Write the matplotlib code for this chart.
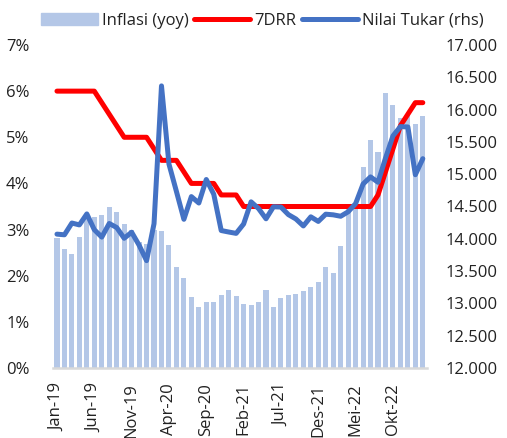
import matplotlib
matplotlib.use('Agg')
import matplotlib.pyplot as plt
from matplotlib.ticker import FuncFormatter, MultipleLocator
from matplotlib.patches import Patch
from matplotlib.lines import Line2D

plt.rcParams['font.family'] = ['Open Sans', 'DejaVu Sans']

months = ['Jan', 'Feb', 'Mar', 'Apr', 'Mei', 'Jun', 'Jul', 'Agu', 'Sep', 'Okt', 'Nov', 'Des']
labels = [m + '-' + y for y in ['19', '20', '21', '22', '23'] for m in months][:50]

inflasi = [2.82, 2.57, 2.48, 2.83, 3.32, 3.28, 3.32, 3.49, 3.39, 3.13, 3.00, 2.72,
           2.68, 2.98, 2.96, 2.67, 2.19, 1.96, 1.54, 1.32, 1.42, 1.44, 1.59, 1.68,
           1.55, 1.38, 1.37, 1.42, 1.68, 1.33, 1.52, 1.59, 1.60, 1.66, 1.75, 1.87,
           2.18, 2.06, 2.64, 3.47, 3.55, 4.35, 4.94, 4.69, 5.95, 5.71, 5.42, 5.51,
           5.28, 5.47]

drr = [6.00, 6.00, 6.00, 6.00, 6.00, 6.00, 5.75, 5.50, 5.25, 5.00, 5.00, 5.00,
       5.00, 4.75, 4.50, 4.50, 4.50, 4.25, 4.00, 4.00, 4.00, 4.00, 3.75, 3.75,
       3.75, 3.50, 3.50, 3.50, 3.50, 3.50, 3.50, 3.50, 3.50, 3.50, 3.50, 3.50,
       3.50, 3.50, 3.50, 3.50, 3.50, 3.50, 3.50, 3.75, 4.25, 4.75, 5.25, 5.50,
       5.75, 5.75]

kurs = [14072, 14062, 14244, 14215, 14385, 14141, 14026, 14237, 14174, 14008, 14102, 13901,
        13662, 14234, 16367, 15157, 14733, 14302, 14653, 14554, 14918, 14690, 14128, 14105,
        14084, 14229, 14572, 14468, 14310, 14496, 14491, 14374, 14307, 14199, 14340, 14269,
        14381, 14371, 14349, 14418, 14544, 14848, 14958, 14875, 15247, 15592, 15737, 15731,
        14992, 15240]

bar_c = '#b4c7e7'
red_c = '#ff0000'
blue_c = '#4472c4'

fig = plt.figure(figsize=(5.07, 4.38), dpi=100)
ax = fig.add_axes([0.105, 0.1598, 0.7363, 0.7375])
ax2 = ax.twinx()

x = list(range(len(labels)))
ax.bar(x, inflasi, width=0.68, color=bar_c, zorder=1)
ax.plot(x, drr, color=red_c, lw=3.6, solid_capstyle='round', zorder=2)
ax2.plot(x, kurs, color=blue_c, lw=3.6, solid_capstyle='round')

ax.set_xlim(-0.5, len(labels) - 0.5)
ax.set_ylim(0, 7)
ax2.set_ylim(12000, 17000)
ax.yaxis.set_major_locator(MultipleLocator(1))
ax.yaxis.set_major_formatter(FuncFormatter(lambda v, p: '%d%%' % v))
ax2.yaxis.set_major_locator(MultipleLocator(500))
ax2.yaxis.set_major_formatter(FuncFormatter(lambda v, p: '{:,.0f}'.format(v).replace(',', '.')))

ax.set_xticks(x[::5])
ax.set_xticklabels(labels[::5], rotation=90, va='top', ha='center')

for a in (ax, ax2):
    for s in ['top', 'left', 'right', 'bottom']:
        a.spines[s].set_visible(False)
    a.tick_params(length=0, labelsize=12, colors='#222222')
ax.spines['bottom'].set_visible(True)
ax.spines['bottom'].set_color('#d9d9d9')
ax.spines['bottom'].set_linewidth(1.8)
ax.tick_params(axis='y', pad=17)
ax.tick_params(axis='x', pad=11)
ax2.tick_params(axis='y', pad=14)

handles = [Patch(color=bar_c), Line2D([], [], color=red_c, lw=3.6, solid_capstyle='round'),
           Line2D([], [], color=blue_c, lw=3.6, solid_capstyle='round')]
fig.legend(handles, ['Inflasi (yoy)', '7DRR', 'Nilai Tukar (rhs)'], loc='center',
           bbox_to_anchor=(0.518, 0.953), ncol=3, frameon=False, fontsize=12,
           handlelength=3.4, handleheight=0.8, handletextpad=0.25, columnspacing=0.3,
           labelcolor='#222222')

fig.savefig('out.png', dpi=100)
